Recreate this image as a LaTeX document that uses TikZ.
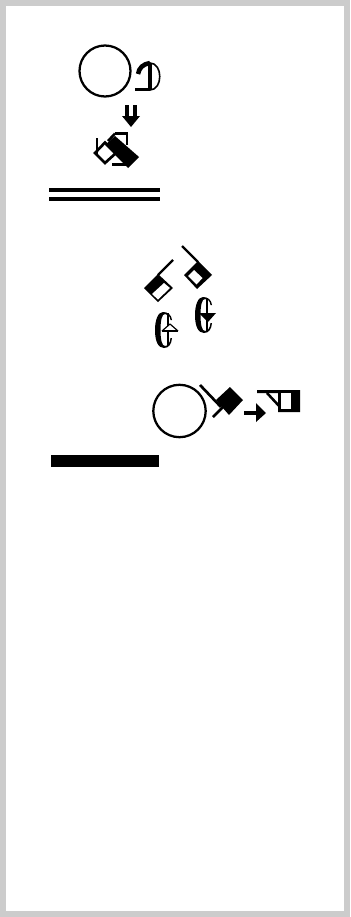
\documentclass[tikz,border=0pt]{standalone}
\begin{document}
\begin{tikzpicture}[x=0.75pt,y=-0.75pt]
\useasboundingbox (0,0) rectangle (350,917);
\fill[white] (0,0) rectangle (350,917);
\draw[draw=black!20,line width=4.8pt] (3.2,3.2) rectangle (346.8,913.8);
% top group
\draw[line width=1.7pt] (105,71) circle (25.5);
\draw[line width=2.6pt] (135,89.5) -- (150,89.5);
\draw[line width=2.8pt] (150,63) -- (150,90);
\draw[line width=3.4pt] (138,74) .. controls (139,68) and (143,64) .. (150,63);
\draw[line width=1.2pt] (150,63) .. controls (163,63) and (163,90) .. (150,90);
\draw[line width=2.4pt] (127,105) -- (127,118);
\draw[line width=2.4pt] (135,105) -- (135,118);
\fill (122,116) -- (140,116) -- (131,127) -- cycle;
\draw[line width=1.9pt] (115,133.5) -- (127,133.5) -- (127,145);
\draw[line width=1.9pt] (115,133.5) -- (108,141);
\draw[line width=2pt] (95,153) -- (105,142.5) -- (116,153) -- (105,163) -- cycle;
\draw[line width=2pt] (97,138) -- (97,155);
\draw[line width=2.3pt] (112,164.5) -- (126,164.5);
\fill (115,136) -- (139,157) -- (128,168) -- (105,145) -- cycle;
\draw[line width=2.6pt] (49,190) -- (160,190);
\draw[line width=2.6pt] (49,199) -- (160,199);
% second group
\draw[line width=1.8pt] (173,260) -- (158,275);
\fill (144,288) -- (158,274) -- (173,288) -- (158,302) -- cycle;
\fill[white] (152,294) -- (164,283) -- (170,288) -- (158,299.5) -- cycle;
\draw[line width=1.8pt] (182,246) -- (198,262);
\fill (184,275) -- (198,261) -- (212,275) -- (197,289) -- cycle;
\fill[white] (188,276) -- (194,270) -- (202.5,278) -- (196.5,284.5) -- cycle;
% left glyph
\draw[line width=1.2pt] (168,313) -- (168,346);
\fill (163,312) .. controls (158,312) and (155,320) .. (155,330) .. controls (155,341) and (158,348) .. (164,348) .. controls (169,348) and (171.5,344) .. (172,338) -- (170.5,338) .. controls (170,343) and (168,346) .. (165,346) .. controls (162,346) and (160.5,340) .. (160.5,330) .. controls (160.5,320) and (162,314) .. (165,314) .. controls (168,314) and (170,316) .. (170.5,320) -- (172,320) .. controls (171.5,315) and (168,312) .. (163,312) -- cycle;
\fill[white] (170,324) -- (178,331) -- (162,331) -- cycle;
\draw[line width=0.9pt] (170,324) -- (162,331);
\draw[line width=0.9pt] (170,324) -- (178,331);
\draw[line width=1.4pt] (162,331) -- (178,331);
% right glyph
\draw[line width=1.2pt] (207,298) -- (207,331);
\fill (203,297) .. controls (198,297) and (195,305) .. (195,315) .. controls (195,326) and (198,333) .. (204,333) .. controls (209,333) and (211.5,329) .. (212,323) -- (210.5,323) .. controls (210,328) and (208,331) .. (205,331) .. controls (202,331) and (200.5,325) .. (200.5,315) .. controls (200.5,305) and (202,299) .. (205,299) .. controls (208,299) and (210,301) .. (210.5,305) -- (212,305) .. controls (211.5,300) and (208,297) .. (203,297) -- cycle;
\fill (199,313) -- (216,313) -- (208,322) -- cycle;
% third group
\draw[line width=1.7pt] (179.5,411) circle (26.2);
\draw[line width=2pt] (200,385) -- (221,407);
\draw[line width=2pt] (213,417) -- (223,407);
\fill (230,387) -- (243,400) -- (229,415) -- (216,400) -- cycle;
\draw[line width=2.4pt] (244,413) -- (257,413);
\fill (256,403) -- (266,413) -- (256,422) -- cycle;
\fill (257,390) -- (300,390) -- (300,412) -- (278,412) -- (278,393) -- (257,393) -- cycle;
\fill[white] (281,393) rectangle (291,409);
\draw[line width=1.9pt] (267,393) -- (280,407);
\fill (51,455) rectangle (159,467);
\end{tikzpicture}
\end{document}
